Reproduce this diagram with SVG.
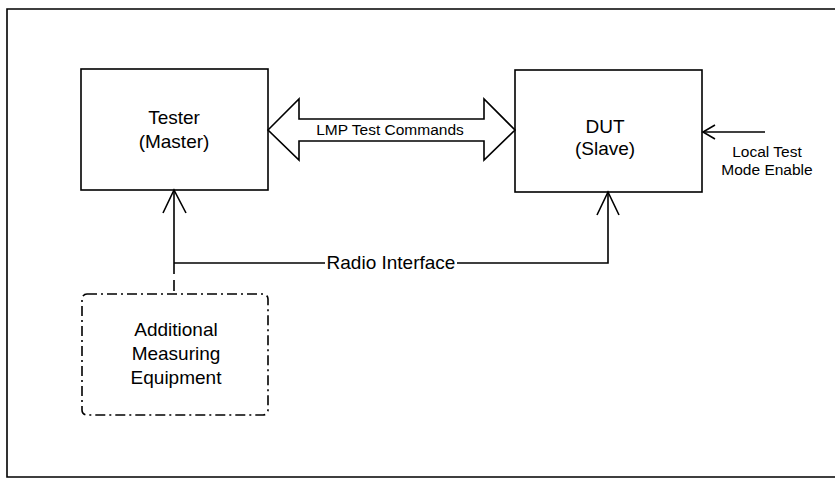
<svg xmlns="http://www.w3.org/2000/svg" width="835" height="486" viewBox="0 0 835 486">
<style>
.box{fill:#fff;stroke:#000;stroke-width:1.6}
.dash{fill:none;stroke:#000;stroke-width:1.6;stroke-dasharray:10 4 2 4}
.ln{fill:none;stroke:#000;stroke-width:1.6}
.t{font-family:"Liberation Sans",Arial,sans-serif;font-size:19px;fill:#000;text-anchor:middle}
.s{font-family:"Liberation Sans",Arial,sans-serif;font-size:15.5px;fill:#000;text-anchor:middle}
</style>
<rect width="835" height="486" fill="#fff"/>
<g id="frame">
<path class="ln" d="M840,9 H7 V477 H840" stroke-width="2"/>
</g>
<g id="tester">
<rect class="box" x="81" y="69" width="187" height="121"/>
<text class="t" x="174" y="124">Tester</text>
<text class="t" x="174" y="148">(Master)</text>
</g>
<g id="dut">
<rect class="box" x="515" y="70" width="187" height="122"/>
<text class="t" x="605" y="133">DUT</text>
<text class="t" x="605" y="155">(Slave)</text>
</g>
<g id="equipment">
<rect class="dash" x="82" y="294" width="186" height="121" rx="5"/>
<text class="t" x="176" y="336">Additional</text>
<text class="t" x="176" y="360">Measuring</text>
<text class="t" x="176" y="384">Equipment</text>
</g>
<g id="connectors">
<polygon class="box" points="268,130 299,99 299,119 484,119 484,99 515,130 484,160 484,141 299,141 299,160"/>
<text class="s" x="390" y="135">LMP Test Commands</text>
<path class="ln" d="M174,190 V274"/>
<path class="ln" d="M174,280 V291"/>
<path class="ln" d="M163,213 L174,190 L186,213"/>
<path class="ln" d="M174,263 H325"/>
<path class="ln" d="M457,263 H608 V192"/>
<path class="ln" d="M597,215 L608,192 L619,215"/>
<text class="t" x="391" y="269">Radio Interface</text>
<path class="ln" d="M765,132 H703"/>
<path class="ln" d="M715,125 L703,132 L715,139"/>
<text class="s" x="767" y="157">Local Test</text>
<text class="s" x="767" y="175">Mode Enable</text>
</g>
</svg>
